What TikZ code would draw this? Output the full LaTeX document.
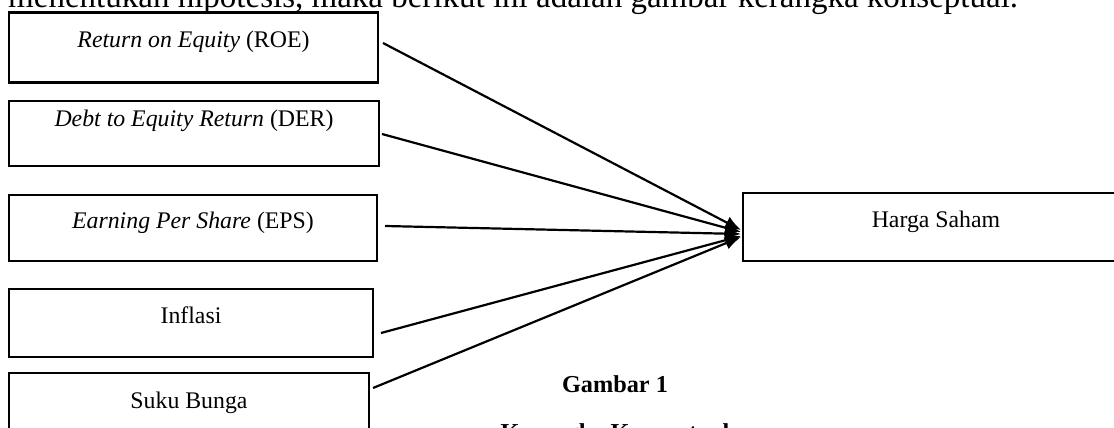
\documentclass[tikz,border=0pt]{standalone}
\usepackage{fontspec}
\setmainfont{Liberation Serif}
\usetikzlibrary{arrows.meta}
\begin{document}
\begin{tikzpicture}[x=1pt,y=-1pt,
  box/.style={draw,line width=2.3pt,rectangle,inner sep=0pt,
    text height=0pt,text depth=0pt,font=\fontsize{23.8}{28}\selectfont},
  conn/.style={line width=2.2pt,-{Latex[length=16pt,width=13pt]}},
  body/.style={font=\fontsize{33}{40}\selectfont,inner sep=0pt,anchor=base west},
  captext/.style={font=\bfseries\fontsize{24.3}{29}\selectfont,inner sep=0pt,anchor=base}]
\useasboundingbox (0,0) rectangle (1114,428);

\node[body] (intro) at (8,7.3) {menentukan hipotesis, maka berikut ini adalah gambar kerangka konseptual.};

\node[box,minimum width=369pt,minimum height=70pt] (roe) at (193.5,47.5) {\textit{Return on Equity} (ROE)};
\node[box,minimum width=370pt,minimum height=65pt,text depth=13.6pt] (der) at (194,133.5) {\textit{Debt to Equity Return} (DER)};
\node[box,minimum width=368pt,minimum height=66pt] (eps) at (193,228) {\textit{Earning Per Share} (EPS)};
\node[box,minimum width=364pt,minimum height=68pt] (inf) at (191,323) {Inflasi};
\node[box,minimum width=360pt,minimum height=70pt] (suku) at (189,408) {Suku Bunga};
\node[box,minimum width=386pt,minimum height=68pt] (harga) at (936,227) {Harga Saham};

\coordinate (s1) at (383,43);
\coordinate (s2) at (382,134);
\coordinate (s3) at (385,226);
\coordinate (s4) at (381,333);
\coordinate (s5) at (373,388);
\coordinate (t1) at (741,230);
\coordinate (t2) at (741,232);
\coordinate (t3) at (741,234);
\coordinate (t4) at (741,236);
\coordinate (t5) at (741,237);

\draw[conn] (s1) -- (t1);
\draw[conn] (s2) -- (t2);
\draw[conn] (s3) -- (t3);
\draw[conn] (s4) -- (t4);
\draw[conn] (s5) -- (t5);

\node[captext] (g1) at (615,392) {Gambar 1};
\node[captext] (g2) at (615,440) {Kerangka Konseptual};
\end{tikzpicture}
\end{document}
